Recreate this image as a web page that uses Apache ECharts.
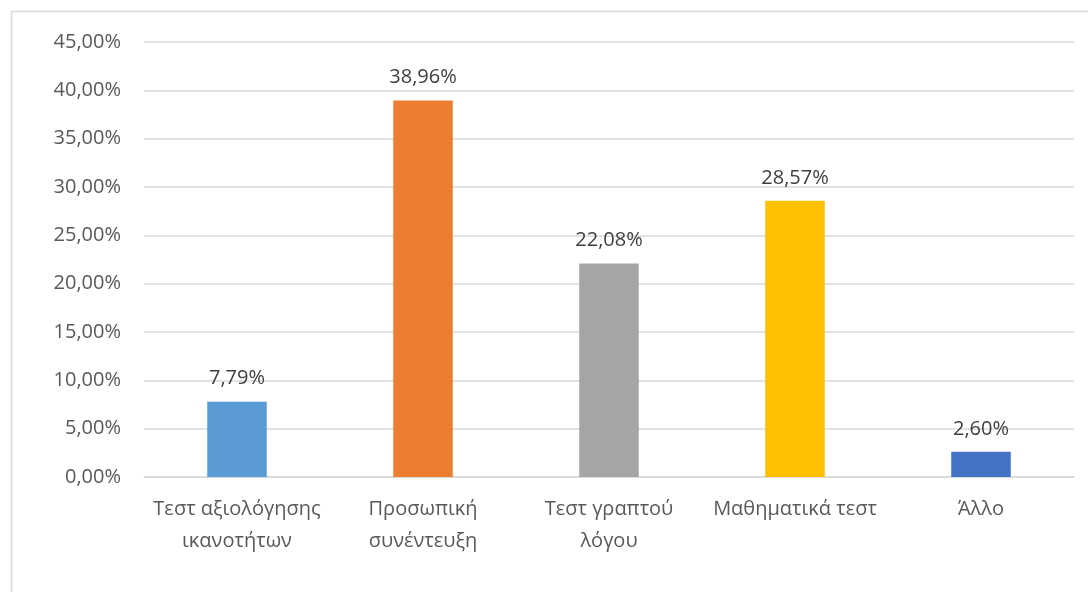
<!DOCTYPE html>
<html>
<head>
<meta charset="utf-8">
<script src="https://cdn.jsdelivr.net/npm/echarts@6/dist/echarts.min.js"></script>
<style>
  html, body { margin: 0; padding: 0; background: #fff; }
  #chart { width: 1088px; height: 592px; }
</style>
</head>
<body>
<div id="chart"></div>
<script>
// Assessment methods and their shares (%)
const categories = ['Τεστ αξιολόγησης\nικανοτήτων', 'Προσωπική\nσυνέντευξη', 'Τεστ γραπτού\nλόγου', 'Μαθηματικά τεστ', 'Άλλο'];
const values = [7.79, 38.96, 22.08, 28.57, 2.60];
const colors = ['#5B9BD5', '#ED7D31', '#A5A5A5', '#FFC000', '#4472C4'];

const fmt = v => v.toFixed(2).replace('.', ',') + '%';
const font = '"Open Sans", "Noto Sans", sans-serif';

const chart = echarts.init(document.getElementById('chart'), null, { renderer: 'canvas' });
chart.setOption({
  animation: false,
  graphic: [{
    type: 'rect',
    shape: { x: 11.5, y: 11.5, width: 1100, height: 600 },
    style: { fill: 'none', stroke: '#D9D9D9', lineWidth: 1.5 },
    silent: true
  }],
  grid: { left: 144, right: 14, top: 42, bottom: 115, containLabel: false },
  xAxis: {
    type: 'category',
    data: categories,
    axisLine: { show: true, lineStyle: { color: '#D9D9D9', width: 1.5 } },
    axisTick: { show: false },
    axisLabel: {
      color: '#595959', fontFamily: font, fontSize: 20, lineHeight: 32,
      margin: 16, interval: 0
    }
  },
  yAxis: {
    type: 'value',
    min: 0, max: 45, interval: 5,
    axisLine: { show: false },
    axisTick: { show: false },
    splitLine: { lineStyle: { color: '#D9D9D9', width: 1.5 } },
    axisLabel: {
      color: '#595959', fontFamily: font, fontSize: 20, margin: 23,
      formatter: v => fmt(v)
    }
  },
  series: [{
    type: 'bar',
    barWidth: '32%',
    data: values.map((v, i) => ({ value: v, itemStyle: { color: colors[i] } })),
    label: {
      show: true, position: 'top', distance: 13,
      color: '#404040', fontFamily: font, fontSize: 20,
      formatter: p => fmt(p.value)
    }
  }]
});
</script>
</body>
</html>
